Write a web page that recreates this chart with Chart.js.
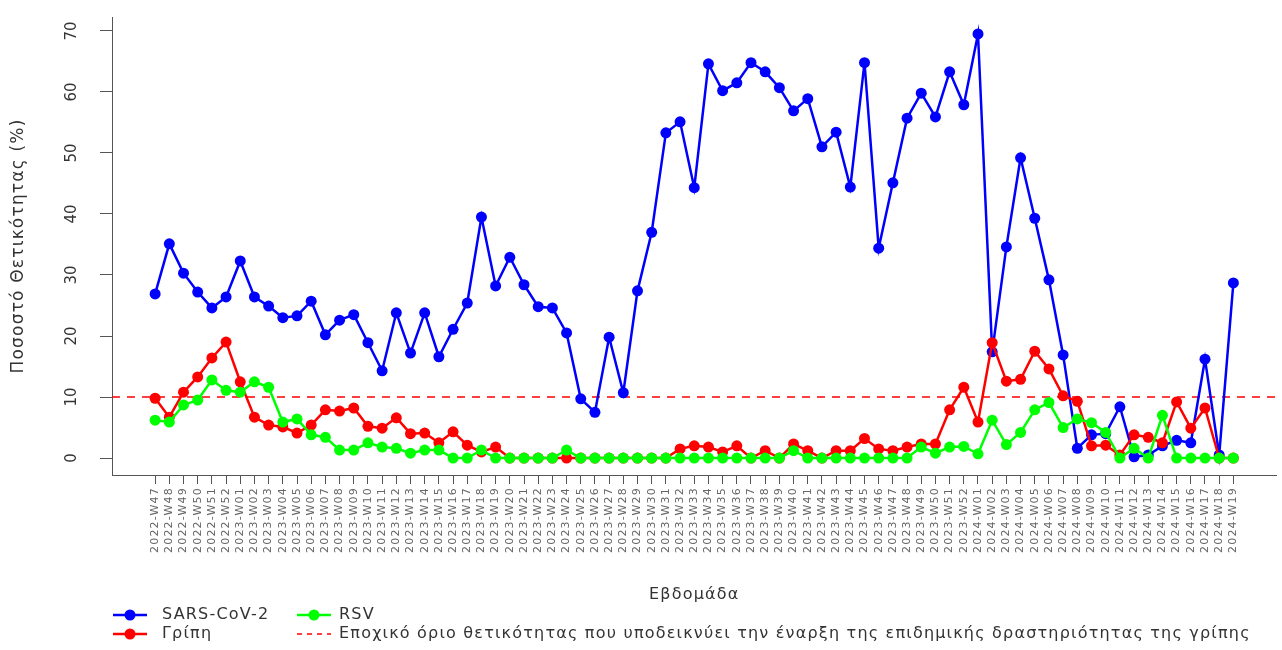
<!DOCTYPE html>
<html>
<head>
<meta charset="utf-8">
<script src="https://cdn.jsdelivr.net/npm/chart.js@4.4.1/dist/chart.umd.min.js"></script>
<style>
  body { margin: 0; background: #fff; }
  #wrap { width: 1282px; height: 650px; }
</style>
</head>
<body>
<div id="wrap"><canvas id="lineChart"></canvas></div>
<script>
// weeks on the x axis
var weeks = [
  "2022-W47","2022-W48","2022-W49","2022-W50","2022-W51","2022-W52",
  "2023-W01","2023-W02","2023-W03","2023-W04","2023-W05","2023-W06","2023-W07","2023-W08","2023-W09","2023-W10",
  "2023-W11","2023-W12","2023-W13","2023-W14","2023-W15","2023-W16","2023-W17","2023-W18","2023-W19","2023-W20",
  "2023-W21","2023-W22","2023-W23","2023-W24","2023-W25","2023-W26","2023-W27","2023-W28","2023-W29","2023-W30",
  "2023-W31","2023-W32","2023-W33","2023-W34","2023-W35","2023-W36","2023-W37","2023-W38","2023-W39","2023-W40",
  "2023-W41","2023-W42","2023-W43","2023-W44","2023-W45","2023-W46","2023-W47","2023-W48","2023-W49","2023-W50",
  "2023-W51","2023-W52",
  "2024-W01","2024-W02","2024-W03","2024-W04","2024-W05","2024-W06","2024-W07","2024-W08","2024-W09","2024-W10",
  "2024-W11","2024-W12","2024-W13","2024-W14","2024-W15","2024-W16","2024-W17","2024-W18","2024-W19"
];

// positivity % per week
var sars = [26.9, 35.1, 30.3, 27.2, 24.6, 26.4, 32.3, 26.4, 24.9, 23.0,
            23.3, 25.7, 20.2, 22.6, 23.5, 18.9, 14.3, 23.8, 17.2, 23.8,
            16.6, 21.1, 25.4, 39.5, 28.2, 32.9, 28.4, 24.8, 24.6, 20.5,
            9.7, 7.5, 19.8, 10.7, 27.4, 37.0, 53.3, 55.1, 44.3, 64.6,
            60.2, 61.5, 64.8, 63.3, 60.7, 56.9, 58.9, 51.0, 53.4, 44.4,
            64.8, 34.4, 45.1, 55.7, 59.8, 55.9, 63.3, 57.9, 69.5, 17.4,
            34.6, 49.2, 39.3, 29.2, 16.9, 1.6, 3.8, 4.0, 8.4, 0.2,
            0.5, 2.0, 2.9, 2.5, 16.2, 0.5, 28.7];

var flu = [9.8, 6.7, 10.8, 13.3, 16.4, 19.0, 12.5, 6.7, 5.4, 5.1,
           4.1, 5.4, 7.9, 7.7, 8.2, 5.2, 4.9, 6.6, 4.0, 4.1,
           2.5, 4.3, 2.1, 1.0, 1.8, 0, 0, 0, 0, 0,
           0, 0, 0, 0, 0, 0, 0, 1.5, 2.0, 1.8,
           1.0, 2.0, 0, 1.2, 0, 2.3, 1.2, 0, 1.2, 1.2,
           3.2, 1.5, 1.2, 1.8, 2.3, 2.3, 7.9, 11.6, 5.9, 18.9,
           12.6, 12.9, 17.5, 14.6, 10.2, 9.3, 2.0, 2.1, 0.5, 3.8,
           3.4, 2.5, 9.2, 4.9, 8.2, 0, 0];

var rsv = [6.2, 5.9, 8.7, 9.5, 12.8, 11.1, 10.8, 12.5, 11.6, 5.9,
           6.4, 3.8, 3.4, 1.3, 1.3, 2.5, 1.8, 1.6, 0.8, 1.3,
           1.3, 0, 0, 1.3, 0, 0, 0, 0, 0, 1.3,
           0, 0, 0, 0, 0, 0, 0, 0, 0, 0,
           0, 0, 0, 0, 0, 1.2, 0, 0, 0, 0,
           0, 0, 0, 0, 1.8, 0.8, 1.8, 1.9, 0.7, 6.2,
           2.2, 4.2, 7.9, 9.1, 5.0, 6.4, 5.8, 4.2, 0, 1.6,
           0, 7.0, 0, 0, 0, 0, 0];

var threshold = 10;
var yTicks = [0, 10, 20, 30, 40, 50, 60, 70];

// R style: axis range padded by 4%
var xMin = -0.04 * (weeks.length - 1), xMax = (weeks.length - 1) * 1.04;
var yMin = -0.04 * 69.5, yMax = 69.5 * 1.04;

var FONT = "'DejaVu Sans', 'Liberation Sans', Arial, sans-serif";
var TXT = '#333';
var AX = '#555';
var SPACING = '1.2px';

function pts(arr) {
  return arr.map(function (v, i) { return { x: i, y: v }; });
}

function series(label, arr, color, order) {
  return {
    label: label,
    data: pts(arr),
    borderColor: color,
    backgroundColor: color,
    borderWidth: 2.5,
    pointRadius: 5.5,
    pointBorderWidth: 0,
    pointBackgroundColor: color,
    tension: 0,
    order: order
  };
}

// wide tracking like the original text
var tracking = {
  id: 'tracking',
  beforeDraw: function (chart) { chart.ctx.letterSpacing = SPACING; }
};

// rotated y tick labels (like R's las=0)
var yLabels = {
  id: 'yLabels',
  afterDraw: function (chart) {
    var s = chart.scales.y, c = chart.ctx;
    c.save();
    c.fillStyle = TXT;
    c.font = '15px ' + FONT;
    c.letterSpacing = '0px';
    c.textAlign = 'center';
    c.textBaseline = 'middle';
    s.ticks.forEach(function (t) {
      var y = s.getPixelForValue(t.value);
      c.save();
      c.translate(72, y);
      c.rotate(-Math.PI / 2);
      c.fillText(String(t.value), 0, 0);
      c.restore();
    });
    c.restore();
  }
};

// two-column legend below the axis title
var bottomLegend = {
  id: 'bottomLegend',
  afterDraw: function (chart) {
    var c = chart.ctx, ds = chart.data.datasets;
    var items = [
      { d: ds[2], x: 113, y: 615, tx: 162 },
      { d: ds[1], x: 113, y: 634, tx: 162 },
      { d: ds[0], x: 297, y: 615, tx: 339 },
      { d: ds[3], x: 297, y: 634, tx: 339 }
    ];
    c.save();
    c.font = '16px ' + FONT;
    c.letterSpacing = SPACING;
    c.textBaseline = 'middle';
    c.textAlign = 'left';
    items.forEach(function (it) {
      var d = it.d;
      c.strokeStyle = d.borderColor;
      c.lineWidth = d.borderDash ? 1.5 : 2.5;
      c.setLineDash(d.borderDash ? [5, 5] : []);
      c.beginPath();
      c.moveTo(it.x, it.y);
      c.lineTo(it.x + 34, it.y);
      c.stroke();
      c.setLineDash([]);
      if (!d.borderDash) {
        c.fillStyle = d.borderColor;
        c.beginPath();
        c.arc(it.x + 17, it.y, 5.5, 0, Math.PI * 2);
        c.fill();
      }
      c.fillStyle = TXT;
      c.fillText(d.label, it.tx, it.y);
    });
    c.restore();
  }
};

var ctxL = document.getElementById('lineChart').getContext('2d');
var myLineChart = new Chart(ctxL, {
  type: 'line',
  data: {
    datasets: [
      series('RSV', rsv, '#00ff00', 0),
      series('Γρίπη', flu, '#ff0000', 1),
      series('SARS-CoV-2', sars, '#0000ff', 2),
      {
        label: 'Εποχικό όριο θετικότητας που υποδεικνύει την έναρξη της επιδημικής δραστηριότητας της γρίπης',
        data: [{ x: xMin, y: threshold }, { x: xMax, y: threshold }],
        borderColor: '#ff0000',
        borderWidth: 1.5,
        borderDash: [8, 7],
        pointRadius: 0,
        order: 3
      }
    ]
  },
  plugins: [tracking, yLabels, bottomLegend],
  options: {
    responsive: true,
    maintainAspectRatio: false,
    animation: false,
    layout: { padding: { top: 17, right: 5, left: 0, bottom: 0 } },
    plugins: {
      legend: { display: false },
      tooltip: { enabled: false }
    },
    scales: {
      x: {
        type: 'linear',
        min: xMin,
        max: xMax,
        afterBuildTicks: function (s) {
          s.ticks = weeks.map(function (w, i) { return { value: i }; });
        },
        afterFit: function (s) { s.height = 175; },
        ticks: {
          autoSkip: false,
          minRotation: 90,
          maxRotation: 90,
          padding: 3,
          color: '#666',
          font: { family: FONT, size: 11 },
          callback: function (v, i) { return weeks[i]; }
        },
        grid: { drawOnChartArea: false, drawTicks: true, tickLength: 9, color: AX },
        border: { display: true, color: AX, width: 1 },
        title: {
          display: true,
          text: 'Εβδομάδα',
          color: TXT,
          font: { family: FONT, size: 16 },
          padding: { top: 0, bottom: 46 }
        }
      },
      y: {
        min: yMin,
        max: yMax,
        afterBuildTicks: function (s) {
          s.ticks = yTicks.map(function (v) { return { value: v }; });
        },
        afterFit: function (s) { s.width = 112; },
        ticks: { color: 'rgba(0,0,0,0)', font: { family: FONT, size: 15 } },
        grid: { drawOnChartArea: false, drawTicks: true, tickLength: 12, color: AX },
        border: { display: true, color: AX, width: 1 },
        title: {
          display: true,
          text: 'Ποσοστό Θετικότητας (%)',
          color: TXT,
          font: { family: FONT, size: 17 },
          padding: { top: 8, bottom: 0 }
        }
      }
    }
  }
});
</script>
</body>
</html>
